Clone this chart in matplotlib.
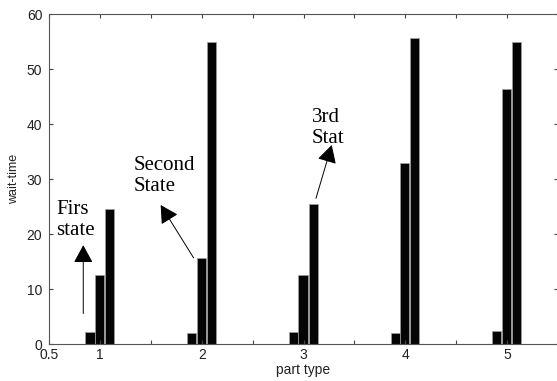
"""
Wait time per part type, three states.
"""

import matplotlib.pyplot as plt

parts = [1, 2, 3, 4, 5]

first_state = [2.2, 2.0, 2.2, 2.0, 2.4]
second_state = [12.5, 15.7, 12.5, 32.9, 46.4]
third_state = [24.6, 55.0, 25.5, 55.6, 55.0]

x_ticks = [0.5, 1, 1.5, 2, 2.5, 3, 3.5, 4, 4.5, 5, 5.5]
x_tick_labels = ["0.5", "1", "", "2", "", "3", "", "4", "", "5", ""]
y_ticks = [0, 10, 20, 30, 40, 50, 60]

plt.rcParams["font.family"] = ["Liberation Sans", "DejaVu Sans"]

fig = plt.figure(figsize=(5.57, 3.81), dpi=100)

ax = fig.add_axes([49.3 / 557, 36.7 / 381, 508.5 / 557, 330.3 / 381])

offsets = [-0.1, -0.005, 0.095]
series = [first_state, second_state, third_state]

for off, values in zip(offsets, series):
    ax.bar(
        [p + off for p in parts],
        values,
        width=0.09,
        color="#050505",
        edgecolor="#a0a0a0",
        linewidth=0.5
    )

ax.set_xlim(0.5, 5.5)
ax.set_ylim(0, 60)

ax.set_xticks(x_ticks)
ax.set_xticklabels(x_tick_labels)
ax.set_yticks(y_ticks)

ax.tick_params(
    direction="in",
    length=3,
    width=0.8,
    color="#444444",
    top=True,
    right=True,
    labelsize=10,
    labelcolor="#222222"
)
ax.tick_params(axis="x", pad=3)
ax.tick_params(axis="y", pad=5)

for spine in ax.spines.values():
    spine.set_color("#555555")
    spine.set_linewidth(0.8)

ax.set_xlabel("part type", fontsize=10, color="#222222")
ax.set_ylabel("wait-time", fontsize=9, color="#222222")
ax.yaxis.set_label_coords(-0.058, 0.5)
ax.xaxis.set_label_coords(0.5, -0.058)

serif = ["Liberation Serif", "DejaVu Serif"]

ax.text(0.566, 26.2, "Firs\nstate", family=serif, fontsize=15,
        va="top", ha="left", linespacing=1.15)
ax.text(1.326, 34.2, "Second\nState", family=serif, fontsize=15,
        va="top", ha="left", linespacing=1.15)
ax.text(3.08, 43.0, "3rd\nStat", family=serif, fontsize=15,
        va="top", ha="left", linespacing=1.15)

arrow_style = "-|>,head_length=1.1,head_width=0.6"

ax.annotate(
    "",
    xy=(0.834, 18.0),
    xytext=(0.834, 5.6),
    arrowprops=dict(arrowstyle=arrow_style, color="black",
                    lw=0.7, shrinkA=0, shrinkB=0)
)
ax.annotate(
    "",
    xy=(1.595, 25.3),
    xytext=(1.919, 15.7),
    arrowprops=dict(arrowstyle=arrow_style, color="black",
                    lw=0.7, shrinkA=0, shrinkB=0)
)
ax.annotate(
    "",
    xy=(3.277, 36.2),
    xytext=(3.122, 26.5),
    arrowprops=dict(arrowstyle=arrow_style, color="black",
                    lw=0.7, shrinkA=0, shrinkB=0)
)

fig.savefig("out.png", dpi=100)
plt.close(fig)
